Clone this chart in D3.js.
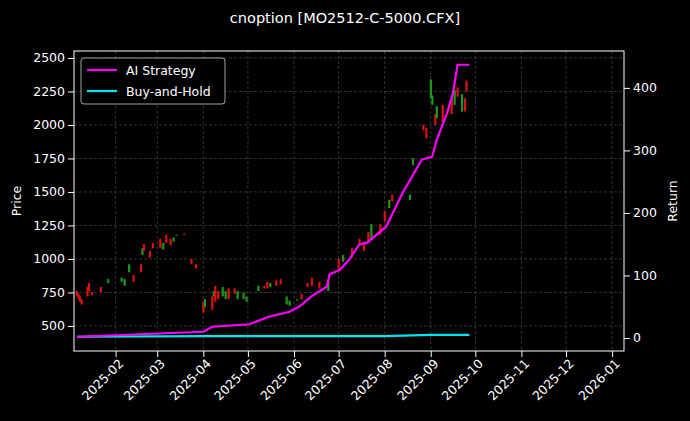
<!DOCTYPE html>
<html><head><meta charset="utf-8">
<script src="https://cdn.jsdelivr.net/npm/d3@7"></script>
<style>body{margin:0;background:#000}svg{display:block}text{font-family:"DejaVu Sans",sans-serif}</style>
</head><body><svg id="c" width="690" height="421"></svg>
<script>
const candleDates=["2025-01-06","2025-01-07","2025-01-08","2025-01-09","2025-01-13","2025-01-14","2025-01-16","2025-01-22","2025-01-27","2025-02-05","2025-02-07","2025-02-10","2025-02-13","2025-02-18","2025-02-19","2025-02-20","2025-02-24","2025-02-26","2025-03-03","2025-03-05","2025-03-07","2025-03-10","2025-03-12","2025-03-14","2025-03-19","2025-03-24","2025-03-27","2025-04-01","2025-04-02","2025-04-07","2025-04-08","2025-04-09","2025-04-11","2025-04-14","2025-04-16","2025-04-18","2025-04-22","2025-04-24","2025-04-28","2025-04-30","2025-05-08","2025-05-12","2025-05-14","2025-05-16","2025-05-20","2025-05-23","2025-05-27","2025-05-29","2025-06-03","2025-06-06","2025-06-10","2025-06-13","2025-06-18","2025-06-24","2025-07-01","2025-07-04","2025-07-10","2025-07-15","2025-07-18","2025-07-21","2025-07-23","2025-07-29","2025-08-01","2025-08-04","2025-08-06","2025-08-18","2025-08-20","2025-08-27","2025-08-29","2025-09-01","2025-09-02","2025-09-04","2025-09-05","2025-09-09","2025-09-15","2025-09-17","2025-09-19","2025-09-22","2025-09-24","2025-09-25"];
const openV=[760,740,720,700,790,820,750,790,820,830,800,900,880,960,1030,1110,1060,1120,1150,1070,1180,1150,1130,1180,1190,1000,960,680,640,720,720,800,760,720,700,780,780,700,700,680,760,800,830,790,840,850,660,650,690,740,820,860,830,760,1000,980,1080,1150,1130,1200,1140,1260,1360,1380,1480,1440,1700,2000,1980,2200,2150,2080,2050,2150,2200,2150,2280,2100,2200,2330];
const closeV=[720,700,680,660,720,760,730,750,850,860,850,960,830,900,1080,1060,1010,1080,1080,1120,1120,1100,1160,1180,1180,960,930,600,700,620,760,680,700,790,760,700,740,760,750,720,800,780,780,820,800,810,720,690,700,700,790,800,780,840,920,1030,1010,1100,1060,1120,1260,1180,1280,1440,1430,1480,1750,1960,1900,2340,2220,2000,2140,2020,2080,2260,2210,2230,2100,2250];
const aiDates=["2025-01-06","2025-04-01","2025-04-07","2025-05-02","2025-05-15","2025-05-29","2025-06-05","2025-06-13","2025-06-23","2025-06-25","2025-07-02","2025-07-08","2025-07-15","2025-07-20","2025-08-02","2025-08-13","2025-08-26","2025-09-02","2025-09-05","2025-09-12","2025-09-16","2025-09-19","2025-09-27"];
const aiRet=[2,10,18,22,34,42,51,67,82,102,109,125,150,152,178,232,285,290,317,360,392,437,437];
const bhDates=["2025-01-06","2025-04-01","2025-08-01","2025-09-01","2025-09-27"];
const bhRet=[2,3,3,5,5];
const priceTicks=[500,750,1000,1250,1500,1750,2000,2250,2500];
const retTicks=[0,100,200,300,400];

const P=d3.timeParse("%Y-%m-%d");
const svg=d3.select("#c");
svg.append("rect").attr("width",690).attr("height",421).attr("fill","#000");
const L=74,R=624,T=51,B=351;
const x=d3.scaleTime().domain([P("2025-01-04"),P("2026-01-09")]).range([L,R]);
const y=d3.scaleLinear().domain([313,2552]).range([B,T]);
const y2=d3.scaleLinear().domain([-20.8,459]).range([B,T]);
const months=d3.timeMonth.range(P("2025-02-01"),P("2026-01-02"));
const g=svg.append("g");
g.selectAll(".gx").data(months).join("line").attr("x1",d=>x(d)).attr("x2",d=>x(d)).attr("y1",T).attr("y2",B).attr("stroke","#555").attr("stroke-dasharray","3,2").attr("stroke-width",0.6);
g.selectAll(".gy").data(priceTicks).join("line").attr("x1",L).attr("x2",R).attr("y1",d=>y(d)).attr("y2",d=>y(d)).attr("stroke","#555").attr("stroke-dasharray","3,2").attr("stroke-width",0.6);
const cd=candleDates.map((d,i)=>({d:P(d),o:openV[i],c:closeV[i]}));
g.selectAll(".cd").data(cd).join("rect").attr("x",d=>x(d.d)-1).attr("width",2.2)
 .attr("y",d=>y(Math.max(d.o,d.c))).attr("height",d=>Math.max(1,Math.abs(y(d.o)-y(d.c))))
 .attr("fill",d=>d.c>=d.o?"#1a9a1a":"#e01010");
const line=d3.line().x(d=>x(d[0])).y(d=>y2(d[1]));
g.append("path").attr("d",line(bhDates.map((d,i)=>[P(d),bhRet[i]]))).attr("fill","none").attr("stroke","#00e5ee").attr("stroke-width",2.2);
g.append("path").attr("d",line(aiDates.map((d,i)=>[P(d),aiRet[i]]))).attr("fill","none").attr("stroke","#ff00ff").attr("stroke-width",2.2);
svg.append("rect").attr("x",L).attr("y",T).attr("width",R-L).attr("height",B-T).attr("fill","none").attr("stroke","#fff").attr("stroke-width",1);
const ax=svg.append("g").attr("transform",`translate(0,${B})`).call(d3.axisBottom(x).tickValues(months).tickFormat(d3.timeFormat("%Y-%m")).tickSizeOuter(0));
ax.selectAll("text").attr("transform","rotate(-45)").style("text-anchor","end").attr("dx","-0.3em").attr("dy","0.5em");
const ay=svg.append("g").attr("transform",`translate(${L},0)`).call(d3.axisLeft(y).tickValues(priceTicks).tickFormat(d3.format("d")).tickSizeOuter(0));
const ay2=svg.append("g").attr("transform",`translate(${R},0)`).call(d3.axisRight(y2).tickValues(retTicks).tickFormat(d3.format("d")).tickSizeOuter(0));
[ax,ay,ay2].forEach(a=>{a.select(".domain").remove();a.selectAll("line").attr("stroke","#fff");a.selectAll("text").attr("fill","#fff").style("font-size","12.5px")});
svg.append("text").attr("x",345).attr("y",23).attr("text-anchor","middle").attr("fill","#fff").style("font-size","14.5px").text("cnoption [MO2512-C-5000.CFX]");
svg.append("text").attr("transform","translate(21,201) rotate(-90)").attr("text-anchor","middle").attr("fill","#fff").style("font-size","12.5px").text("Price");
svg.append("text").attr("transform","translate(677,201) rotate(-90)").attr("text-anchor","middle").attr("fill","#fff").style("font-size","12.5px").text("Return");
const lg=svg.append("g");
lg.append("rect").attr("x",81).attr("y",58).attr("width",144).attr("height",46).attr("rx",3).attr("fill","#000").attr("stroke","#ccc").attr("stroke-width",0.8);
[["AI Strategy","#ff00ff"],["Buy-and-Hold","#00e5ee"]].forEach((e,i)=>{
 lg.append("line").attr("x1",87).attr("x2",117).attr("y1",70+i*21).attr("y2",70+i*21).attr("stroke",e[1]).attr("stroke-width",2.2);
 lg.append("text").attr("x",126).attr("y",74.5+i*21).attr("fill","#fff").style("font-size","12.5px").text(e[0]);
});
</script></body></html>
